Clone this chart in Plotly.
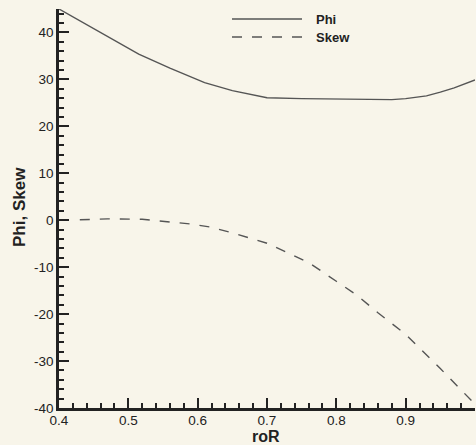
import plotly.graph_objects as go

# data
ror_phi = [0.40, 0.45, 0.515, 0.56, 0.61, 0.65, 0.70, 0.75, 0.80, 0.85, 0.88, 0.90, 0.93, 0.95, 0.97, 1.00]
phi = [45.0, 40.8, 35.4, 32.4, 29.3, 27.6, 26.1, 25.9, 25.8, 25.8, 25.7, 25.9, 26.5, 27.3, 28.2, 29.9]

ror_skew = [0.43, 0.47, 0.52, 0.56, 0.59, 0.62, 0.65, 0.70, 0.73, 0.76, 0.80, 0.83, 0.86, 0.90, 0.95, 1.00]
skew = [0.1, 0.3, 0.2, -0.3, -0.8, -1.5, -2.7, -4.9, -6.9, -9.0, -13.0, -16.0, -19.7, -24.3, -31.6, -39.2]

x_ticks = [0.4, 0.5, 0.6, 0.7, 0.8, 0.9, 1.0]
x_ticklabels = ['0.4', '0.5', '0.6', '0.7', '0.8', '0.9', '1']
y_ticks = [-40, -30, -20, -10, 0, 10, 20, 30, 40]
y_ticklabels = ['-40', '-30', '-20', '-10', '0', '10', '20', '30', '40']

bg = '#f8f5ea'
ink = '#222222'
line_col = '#555555'
font_fam = 'Liberation Sans, Arial'

fig = go.Figure()
fig.add_trace(go.Scatter(x=ror_phi, y=phi, mode='lines', name='Phi',
                         line=dict(color=line_col, width=1.4)))
fig.add_trace(go.Scatter(x=ror_skew, y=skew, mode='lines', name='Skew',
                         line=dict(color=line_col, width=1.4, dash='10px,10px')))

axis_common = dict(
    showgrid=False, zeroline=False, showline=True, linecolor=ink, linewidth=2.5,
    ticks='inside', ticklen=10, tickwidth=2, tickcolor=ink,
    tickfont=dict(family=font_fam, size=13.5, color=ink),
)

fig.update_layout(
    width=476, height=445,
    margin=dict(l=59, r=1, t=9, b=37),
    paper_bgcolor=bg, plot_bgcolor=bg,
    showlegend=False,
    xaxis=dict(range=[0.4, 1.0], tickvals=x_ticks, ticktext=x_ticklabels,
               ticklabelstandoff=-2,
               minor=dict(dtick=0.02, tick0=0.4, ticks='inside', ticklen=5, tickwidth=1.5, tickcolor=ink),
               **axis_common),
    yaxis=dict(range=[-40, 45], tickvals=y_ticks, ticktext=y_ticklabels,
               minor=dict(dtick=2, tick0=0, ticks='inside', ticklen=5, tickwidth=1.5, tickcolor=ink),
               **axis_common),
)

# hand-drawn style legend, top centre
legend_items = [('Phi', 'solid', 19), ('Skew', '10px,10px', 37)]
for label, dash, ypix in legend_items:
    yp = 1 - (ypix - 9) / 399
    fig.add_shape(type='line', xref='paper', yref='paper',
                  x0=(232 - 59) / 416, x1=(302 - 59) / 416, y0=yp, y1=yp,
                  line=dict(color=line_col, width=1.4, dash=dash))
    fig.add_annotation(x=(314 - 59) / 416, y=yp, xref='paper', yref='paper',
                       text='<b>' + label + '</b>', showarrow=False,
                       xanchor='left', yanchor='middle',
                       font=dict(family=font_fam, size=13, color=ink))

# axis titles
fig.add_annotation(x=(266 - 59) / 416, y=1 - (436 - 9) / 399, xref='paper', yref='paper',
                   text='<b>roR</b>', showarrow=False, xanchor='center', yanchor='middle',
                   font=dict(family=font_fam, size=16, color=ink))
fig.add_annotation(x=(19 - 59) / 416, y=1 - (207 - 9) / 399, xref='paper', yref='paper',
                   text='<b>Phi, Skew</b>', showarrow=False, textangle=-90,
                   xanchor='center', yanchor='middle',
                   font=dict(family=font_fam, size=17, color=ink))

fig.write_html("out.html", config={'displayModeBar': False},
               post_script="document.body.style.margin='0';")
